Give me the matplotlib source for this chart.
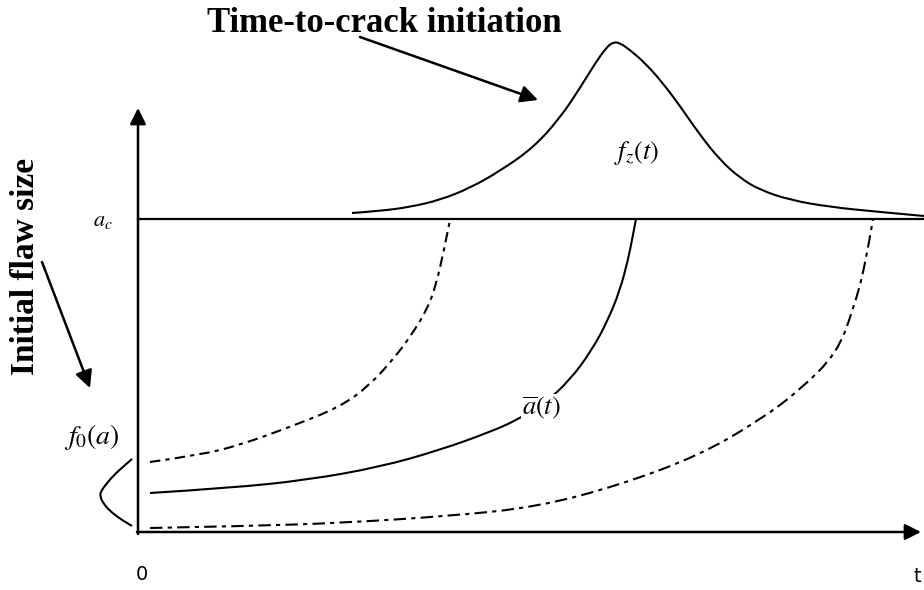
import matplotlib
matplotlib.use("Agg")
import matplotlib.pyplot as plt
from matplotlib.path import Path
from matplotlib.patches import PathPatch

plt.rcParams["mathtext.fontset"] = "stix"

# canvas is laid out in pixel units: x to the right, y downward
W, H = 924, 590

# axes of the schematic
origin = (138, 532)
y_axis_top = 108
x_axis_right = 921
a_c_level = 219

# time-to-crack-initiation density f_z(t), sitting on the a_c line
fz_x = [352, 380, 410, 440, 470, 500, 533, 560, 580, 596, 606, 613, 620, 630, 645,
        662, 680, 700, 720, 740, 760, 790, 830, 880, 924]
fz_y = [213, 211, 207, 200, 188, 171, 148, 118, 88, 62, 48, 42, 43, 50, 63,
        82, 106, 135, 160, 178, 190, 200, 207, 212, 216]

# initial flaw size density f_0(a), drawn sideways on the left
f0_x = [132, 124, 115, 107, 101, 100, 103, 110, 119, 127, 132]
f0_y = [459, 466, 474, 483, 491, 496, 503, 511, 518, 523, 526]

# crack growth curves a(t): upper bound, mean, lower bound
upper_x = [150, 200, 240, 290, 340, 370, 395, 410, 427, 436, 444, 450]
upper_y = [462, 455, 445, 427, 407, 385, 357, 337, 310, 285, 250, 220]

mean_x = [150, 230, 307, 380, 440, 490, 517, 545, 570, 592, 608, 620, 628, 633, 636]
mean_y = [493, 488, 480, 467, 450, 432, 420, 403, 380, 350, 320, 290, 260, 235, 219]

lower_x = [150, 250, 340, 450, 537, 620, 700, 760, 800, 837, 853, 865, 873]
lower_y = [528, 526, 523, 516, 507, 485, 455, 420, 390, 353, 310, 267, 219]


def smooth_curve(ax, xs, ys, **kw):
    # quadratic bezier through midpoints, with the given points as controls
    pts = list(zip(xs, ys))
    verts = [pts[0]]
    codes = [Path.MOVETO]
    for i in range(1, len(pts) - 1):
        mid = ((pts[i][0] + pts[i + 1][0]) / 2, (pts[i][1] + pts[i + 1][1]) / 2)
        if i == len(pts) - 2:
            mid = pts[-1]
        verts += [pts[i], mid]
        codes += [Path.CURVE3, Path.CURVE3]
    patch = PathPatch(Path(verts, codes), facecolor="none", edgecolor="black",
                      capstyle="butt", **kw)
    ax.add_patch(patch)


fig = plt.figure(figsize=(W / 100, H / 100), dpi=100)
ax = fig.add_axes([0, 0, 1, 1])
ax.set_xlim(0, W)
ax.set_ylim(H, 0)
ax.axis("off")

axis_arrow = dict(arrowstyle="-|>", lw=1.8, color="black",
                  mutation_scale=24, shrinkA=0, shrinkB=0)
ax.annotate("", xy=(origin[0], y_axis_top), xytext=(origin[0], origin[1] + 2),
            arrowprops=axis_arrow)
ax.annotate("", xy=(x_axis_right, origin[1]), xytext=(origin[0] - 1, origin[1]),
            arrowprops=axis_arrow)
ax.plot([origin[0], W], [a_c_level, a_c_level], color="black", lw=1.6)

smooth_curve(ax, fz_x, fz_y, lw=1.5)
smooth_curve(ax, f0_x, f0_y, lw=1.5)

smooth_curve(ax, upper_x, upper_y, lw=1.5, linestyle=(0, (5, 2.5, 2, 2.5)))
smooth_curve(ax, mean_x, mean_y, lw=1.5)
smooth_curve(ax, lower_x, lower_y, lw=1.5, linestyle=(0, (6, 2.5, 2, 2.5)))

# math labels
ax.text(103, 221, r"$a_c$", fontsize=16, ha="center", va="center")
ax.text(637, 153, r"$f_z(t)$", fontsize=19, ha="center", va="center")
ax.text(92, 437, r"$f_0(a)$", fontsize=20, ha="center", va="center")
ax.text(541, 408, r"$\overline{a}(t)$", fontsize=19, ha="center", va="center",
        bbox=dict(facecolor="white", edgecolor="none", pad=0.5))
ax.text(142, 574, "0", fontsize=14, ha="center", va="center")
ax.text(913, 576, "t", fontsize=14, ha="left", va="center")

# annotations
ax.text(384, 23, "Time-to-crack initiation", fontsize=25, fontweight="bold",
        family="Liberation Serif", ha="center", va="center")
ax.annotate("", xy=(538, 100), xytext=(360, 37),
            arrowprops=dict(arrowstyle="-|>", lw=1.8, color="black",
                            mutation_scale=26, shrinkA=0, shrinkB=0))

ax.text(26, 266, "Initial flaw size", fontsize=24, fontweight="bold",
        family="Liberation Serif", rotation=90, ha="center", va="center")
ax.annotate("", xy=(90, 388), xytext=(42, 262),
            arrowprops=dict(arrowstyle="-|>", lw=1.8, color="black",
                            mutation_scale=26, shrinkA=0, shrinkB=0))

fig.savefig("out.png", dpi=100)
